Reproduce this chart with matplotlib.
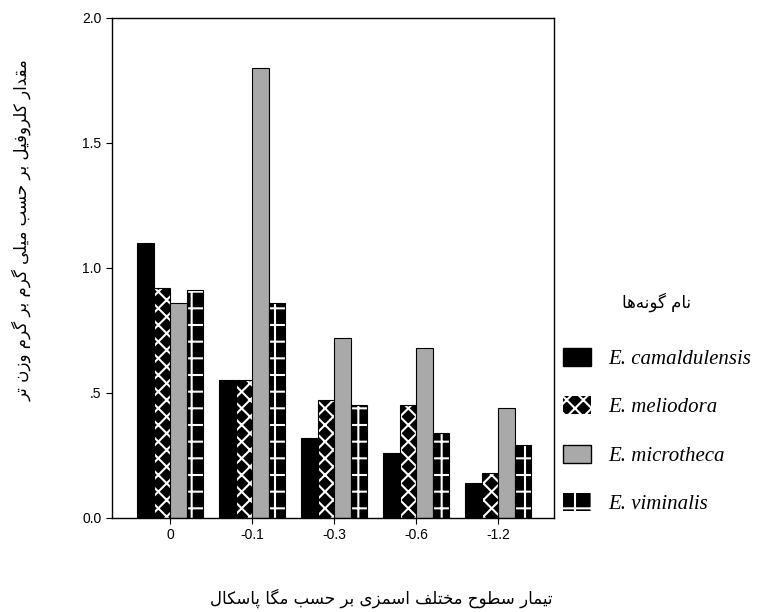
import numpy as np
import matplotlib
matplotlib.use("Agg")
import matplotlib.pyplot as plt
from matplotlib.patches import Patch

# values
treatments = ["0", "-0.1", "-0.3", "-0.6", "-1.2"]
species = ["E. camaldulensis", "E. meliodora", "E. microtheca", "E. viminalis"]
camaldulensis = [1.10, 0.55, 0.32, 0.26, 0.14]
meliodora = [0.92, 0.55, 0.47, 0.45, 0.18]
microtheca = [0.86, 1.80, 0.72, 0.68, 0.44]
viminalis = [0.91, 0.86, 0.45, 0.34, 0.29]

ytick_vals = [0.0, 0.5, 1.0, 1.5, 2.0]
ytick_labels = ["0.0", ".5", "1.0", "1.5", "2.0"]

ylabel_fa = "مقدار کلروفیل بر حسب میلی گرم بر گرم وزن تر"
xlabel_fa = "تیمار سطوح مختلف اسمزی بر حسب مگا پاسکال"
legend_title_fa = "نام گونه\u200cها"

# small persian shaper (matplotlib does no arabic shaping / bidi)
# letter: (isolated, final, initial, medial); None -> does not join forward
FORMS = {
    "ا": ("\uFE8D", "\uFE8E", None, None),
    "ب": ("\uFE8F", "\uFE90", "\uFE91", "\uFE92"),
    "پ": ("\uFB56", "\uFB57", "\uFB58", "\uFB59"),
    "ت": ("\uFE95", "\uFE96", "\uFE97", "\uFE98"),
    "ح": ("\uFEA1", "\uFEA2", "\uFEA3", "\uFEA4"),
    "خ": ("\uFEA5", "\uFEA6", "\uFEA7", "\uFEA8"),
    "د": ("\uFEA9", "\uFEAA", None, None),
    "ر": ("\uFEAD", "\uFEAE", None, None),
    "ز": ("\uFEAF", "\uFEB0", None, None),
    "س": ("\uFEB1", "\uFEB2", "\uFEB3", "\uFEB4"),
    "ط": ("\uFEC1", "\uFEC2", "\uFEC3", "\uFEC4"),
    "ف": ("\uFED1", "\uFED2", "\uFED3", "\uFED4"),
    "ق": ("\uFED5", "\uFED6", "\uFED7", "\uFED8"),
    "ک": ("\uFB8E", "\uFB8F", "\uFB90", "\uFB91"),
    "گ": ("\uFB92", "\uFB93", "\uFB94", "\uFB95"),
    "ل": ("\uFEDD", "\uFEDE", "\uFEDF", "\uFEE0"),
    "م": ("\uFEE1", "\uFEE2", "\uFEE3", "\uFEE4"),
    "ن": ("\uFEE5", "\uFEE6", "\uFEE7", "\uFEE8"),
    "ه": ("\uFEE9", "\uFEEA", "\uFEEB", "\uFEEC"),
    "و": ("\uFEED", "\uFEEE", None, None),
    "ی": ("\uFBFC", "\uFBFD", "\uFBFE", "\uFBFF"),
}


def fa(text):
    out = []
    n = len(text)
    for i, ch in enumerate(text):
        if ch not in FORMS:
            if ch != "\u200c":
                out.append(ch)
            continue
        f = FORMS[ch]
        prev = text[i - 1] if i > 0 else ""
        nxt = text[i + 1] if i + 1 < n else ""
        joins_prev = prev in FORMS and FORMS[prev][2] is not None
        joins_next = f[2] is not None and nxt in FORMS
        if joins_prev and joins_next:
            out.append(f[3])
        elif joins_prev:
            out.append(f[1])
        elif joins_next:
            out.append(f[2])
        else:
            out.append(f[0])
    return "".join(out)[::-1]


plt.rcParams["hatch.linewidth"] = 1.5
plt.rcParams["font.family"] = ["Liberation Sans", "DejaVu Sans"]

fig = plt.figure(figsize=(7.62, 6.12), dpi=100)
ax = fig.add_axes([0.147, 0.1536, 0.58, 0.817])

x = np.arange(len(treatments))
w = 0.2
series = [camaldulensis, meliodora, microtheca, viminalis]
faces = ["black", "black", "#a9a9a9", "black"]
hatches = [None, "xx", None, "+"]

for k, vals in enumerate(series):
    pos = x + (k - 1.5) * w
    if hatches[k]:
        ax.bar(pos, vals, w, color=faces[k], edgecolor="white",
               hatch=hatches[k], linewidth=0)
        ax.bar(pos, vals, w, fill=False, edgecolor="black", linewidth=0.8)
    else:
        ax.bar(pos, vals, w, color=faces[k], edgecolor="black", linewidth=0.8)

ax.set_xlim(-0.71, 4.68)
ax.set_ylim(0, 2.0)
ax.set_xticks(x)
ax.set_xticklabels(treatments, fontsize=10)
ax.set_yticks(ytick_vals)
ax.set_yticklabels(ytick_labels, fontsize=10)
ax.tick_params(direction="out", length=4, width=0.8)
for s in ax.spines.values():
    s.set_linewidth(1.0)

fig.text(0.029, 0.624, fa(ylabel_fa), rotation=90, ha="center", va="center",
         fontsize=12, family="DejaVu Sans")
fig.text(0.50, 0.023, fa(xlabel_fa), ha="center", va="center",
         fontsize=12, family="DejaVu Sans")

handles = [
    Patch(facecolor="black", edgecolor="black"),
    Patch(facecolor="black", edgecolor="white", hatch="xx", linewidth=0),
    Patch(facecolor="#a9a9a9", edgecolor="black"),
    Patch(facecolor="black", edgecolor="white", hatch="+", linewidth=0),
]
leg = fig.legend(handles, species, loc="upper left",
                 bbox_to_anchor=(0.714, 0.553), frameon=False,
                 prop={"family": "Liberation Serif", "style": "italic", "size": 15},
                 handlelength=1.35, handleheight=0.96, handletextpad=0.82,
                 labelspacing=1.3, title=fa(legend_title_fa),
                 title_fontproperties={"family": "DejaVu Sans", "size": 12})
leg._legend_box.sep = 26

fig.savefig("out.png", dpi=100)
